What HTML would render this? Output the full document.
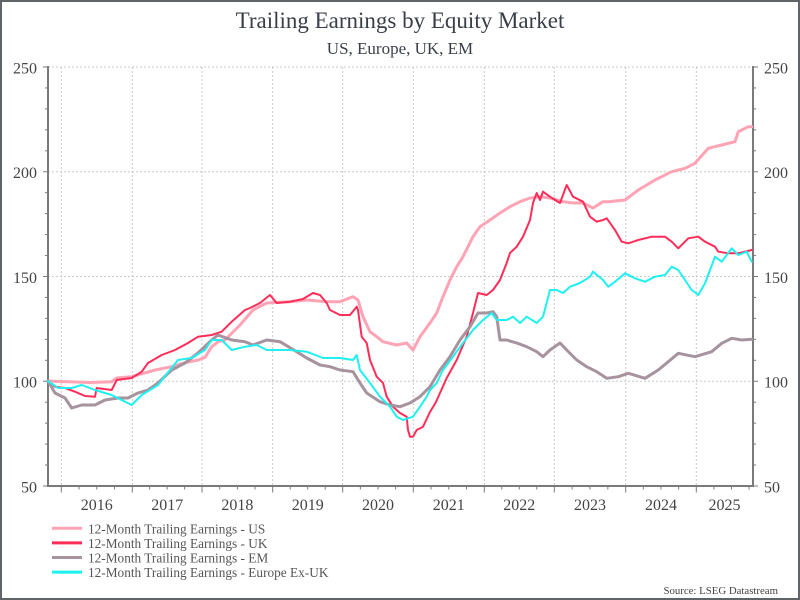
<!DOCTYPE html>
<html>
<head>
<meta charset="utf-8">
<style>
html,body{margin:0;padding:0;background:#fff;}
svg{display:block;}
text{font-family:"Liberation Serif","Times New Roman",serif;}
</style>
</head>
<body>
<svg width="800" height="600" viewBox="0 0 800 600" xmlns="http://www.w3.org/2000/svg">
<rect x="0" y="0" width="800" height="600" fill="#fff"/>
<rect x="1" y="1" width="798" height="598" fill="none" stroke="#606468" stroke-width="2"/>

<!-- Title -->
<text x="400" y="28" text-anchor="middle" font-size="23" fill="#3a3e48">Trailing Earnings by Equity Market</text>
<text x="400" y="54" text-anchor="middle" font-size="17" fill="#3a3e48">US, Europe, UK, EM</text>

<!-- Gridlines -->
<g stroke="#c8c8c8" stroke-width="1" stroke-dasharray="2,2" fill="none">
<line x1="48" y1="67" x2="753" y2="67"/>
<line x1="48" y1="171.75" x2="753" y2="171.75"/>
<line x1="48" y1="276.5" x2="753" y2="276.5"/>
<line x1="48" y1="381.25" x2="753" y2="381.25"/>
<line x1="61.3" y1="67" x2="61.3" y2="485"/>
<line x1="132.3" y1="67" x2="132.3" y2="485"/>
<line x1="202" y1="67" x2="202" y2="485"/>
<line x1="272.7" y1="67" x2="272.7" y2="485"/>
<line x1="342.7" y1="67" x2="342.7" y2="485"/>
<line x1="413.3" y1="67" x2="413.3" y2="485"/>
<line x1="484.3" y1="67" x2="484.3" y2="485"/>
<line x1="554.3" y1="67" x2="554.3" y2="485"/>
<line x1="625.7" y1="67" x2="625.7" y2="485"/>
<line x1="696.3" y1="67" x2="696.3" y2="485"/>
</g>

<!-- Axes -->
<g stroke="#7a7a7a" fill="none">
<line x1="48" y1="66" x2="48" y2="487" stroke-width="2"/>
<line x1="753" y1="66" x2="753" y2="487" stroke-width="2"/>
<line x1="47" y1="486" x2="754" y2="486" stroke-width="2"/>
<!-- left ticks -->
<g stroke-width="1">
<line x1="43" y1="486" x2="48" y2="486"/>
<line x1="45" y1="465.05" x2="48" y2="465.05"/>
<line x1="45" y1="444.1" x2="48" y2="444.1"/>
<line x1="45" y1="423.15" x2="48" y2="423.15"/>
<line x1="45" y1="402.2" x2="48" y2="402.2"/>
<line x1="43" y1="381.25" x2="48" y2="381.25"/>
<line x1="45" y1="360.3" x2="48" y2="360.3"/>
<line x1="45" y1="339.35" x2="48" y2="339.35"/>
<line x1="45" y1="318.4" x2="48" y2="318.4"/>
<line x1="45" y1="297.45" x2="48" y2="297.45"/>
<line x1="43" y1="276.5" x2="48" y2="276.5"/>
<line x1="45" y1="255.55" x2="48" y2="255.55"/>
<line x1="45" y1="234.6" x2="48" y2="234.6"/>
<line x1="45" y1="213.65" x2="48" y2="213.65"/>
<line x1="45" y1="192.7" x2="48" y2="192.7"/>
<line x1="43" y1="171.75" x2="48" y2="171.75"/>
<line x1="45" y1="150.8" x2="48" y2="150.8"/>
<line x1="45" y1="129.85" x2="48" y2="129.85"/>
<line x1="45" y1="108.9" x2="48" y2="108.9"/>
<line x1="45" y1="87.95" x2="48" y2="87.95"/>
<line x1="43" y1="67" x2="48" y2="67"/>
<!-- right ticks -->
<line x1="753" y1="486" x2="758" y2="486"/>
<line x1="753" y1="465.05" x2="756" y2="465.05"/>
<line x1="753" y1="444.1" x2="756" y2="444.1"/>
<line x1="753" y1="423.15" x2="756" y2="423.15"/>
<line x1="753" y1="402.2" x2="756" y2="402.2"/>
<line x1="753" y1="381.25" x2="758" y2="381.25"/>
<line x1="753" y1="360.3" x2="756" y2="360.3"/>
<line x1="753" y1="339.35" x2="756" y2="339.35"/>
<line x1="753" y1="318.4" x2="756" y2="318.4"/>
<line x1="753" y1="297.45" x2="756" y2="297.45"/>
<line x1="753" y1="276.5" x2="758" y2="276.5"/>
<line x1="753" y1="255.55" x2="756" y2="255.55"/>
<line x1="753" y1="234.6" x2="756" y2="234.6"/>
<line x1="753" y1="213.65" x2="756" y2="213.65"/>
<line x1="753" y1="192.7" x2="756" y2="192.7"/>
<line x1="753" y1="171.75" x2="758" y2="171.75"/>
<line x1="753" y1="150.8" x2="756" y2="150.8"/>
<line x1="753" y1="129.85" x2="756" y2="129.85"/>
<line x1="753" y1="108.9" x2="756" y2="108.9"/>
<line x1="753" y1="87.95" x2="756" y2="87.95"/>
<line x1="753" y1="67" x2="758" y2="67"/>
<!-- x ticks major -->
<line x1="61.3" y1="486" x2="61.3" y2="492.5"/>
<line x1="132.3" y1="486" x2="132.3" y2="492.5"/>
<line x1="202" y1="486" x2="202" y2="492.5"/>
<line x1="272.7" y1="486" x2="272.7" y2="492.5"/>
<line x1="342.7" y1="486" x2="342.7" y2="492.5"/>
<line x1="413.3" y1="486" x2="413.3" y2="492.5"/>
<line x1="484.3" y1="486" x2="484.3" y2="492.5"/>
<line x1="554.3" y1="486" x2="554.3" y2="492.5"/>
<line x1="625.7" y1="486" x2="625.7" y2="492.5"/>
<line x1="696.3" y1="486" x2="696.3" y2="492.5"/>
<!-- x ticks minor -->
<line x1="79.05" y1="486" x2="79.05" y2="489.5"/><line x1="96.8" y1="486" x2="96.8" y2="489.5"/><line x1="114.55" y1="486" x2="114.55" y2="489.5"/>
<line x1="149.7" y1="486" x2="149.7" y2="489.5"/><line x1="167.15" y1="486" x2="167.15" y2="489.5"/><line x1="184.6" y1="486" x2="184.6" y2="489.5"/>
<line x1="219.7" y1="486" x2="219.7" y2="489.5"/><line x1="237.35" y1="486" x2="237.35" y2="489.5"/><line x1="255" y1="486" x2="255" y2="489.5"/>
<line x1="290.2" y1="486" x2="290.2" y2="489.5"/><line x1="307.7" y1="486" x2="307.7" y2="489.5"/><line x1="325.2" y1="486" x2="325.2" y2="489.5"/>
<line x1="360.35" y1="486" x2="360.35" y2="489.5"/><line x1="378" y1="486" x2="378" y2="489.5"/><line x1="395.65" y1="486" x2="395.65" y2="489.5"/>
<line x1="431.05" y1="486" x2="431.05" y2="489.5"/><line x1="448.8" y1="486" x2="448.8" y2="489.5"/><line x1="466.55" y1="486" x2="466.55" y2="489.5"/>
<line x1="501.8" y1="486" x2="501.8" y2="489.5"/><line x1="519.3" y1="486" x2="519.3" y2="489.5"/><line x1="536.8" y1="486" x2="536.8" y2="489.5"/>
<line x1="572.15" y1="486" x2="572.15" y2="489.5"/><line x1="590" y1="486" x2="590" y2="489.5"/><line x1="607.85" y1="486" x2="607.85" y2="489.5"/>
<line x1="643.35" y1="486" x2="643.35" y2="489.5"/><line x1="661" y1="486" x2="661" y2="489.5"/><line x1="678.65" y1="486" x2="678.65" y2="489.5"/>
<line x1="713.9" y1="486" x2="713.9" y2="489.5"/><line x1="731.5" y1="486" x2="731.5" y2="489.5"/><line x1="749.1" y1="486" x2="749.1" y2="489.5"/>
</g>
</g>

<!-- Y labels -->
<g font-size="16" fill="#444">
<text x="37" y="73.5" text-anchor="end">250</text>
<text x="37" y="178.2" text-anchor="end">200</text>
<text x="37" y="283" text-anchor="end">150</text>
<text x="37" y="387.7" text-anchor="end">100</text>
<text x="37" y="492.3" text-anchor="end">50</text>
<text x="764" y="73.5">250</text>
<text x="764" y="178.2">200</text>
<text x="764" y="283">150</text>
<text x="764" y="387.7">100</text>
<text x="764" y="492.3">50</text>
</g>

<!-- X labels -->
<g font-size="16" fill="#444" text-anchor="middle">
<text x="96.8" y="510">2016</text>
<text x="167.2" y="510">2017</text>
<text x="237.4" y="510">2018</text>
<text x="307.7" y="510">2019</text>
<text x="378" y="510">2020</text>
<text x="448.8" y="510">2021</text>
<text x="519.3" y="510">2022</text>
<text x="590" y="510">2023</text>
<text x="661" y="510">2024</text>
<text x="724.5" y="510">2025</text>
</g>

<!-- Series -->
<g fill="none" stroke-linejoin="round" stroke-linecap="round">
<!-- US -->
<polyline stroke="#ffa3b5" stroke-width="3" points="48,381 60,381.5 75,382 90,382.5 105,382 111.7,381.7 116.7,378 131.7,376.7 155,370 171.7,366.7 185,362.7 198.3,360 205,357.3 211.7,346.7 218.3,341.7 225,340 235,330 240,325 253,310 266.7,303 290,301.7 306.7,300 326.7,301.7 340,301.7 353,296.7 358,300 363,316.7 370,331.7 376.7,336.7 383,341.7 396.7,345 406.7,343 413,350 420,336.7 430,323 436.7,313 443,296.7 450,280 456.7,266.7 463,256.7 473,236.7 480,226.7 490,220 500,213 510,206.7 520,201.7 530,198 540,196.7 550,198 563,201.7 573,203 583,203 593,208 603,201.7 608.3,201.7 625,200 638.3,190 655,180 671.7,171.7 685,168.3 695,163.3 708.3,148.3 721.7,145 735,141.7 738.3,131.7 748.3,126.7 751.7,126.7"/>
<!-- UK -->
<polyline stroke="#ff2d58" stroke-width="2" points="48,381 55,386.7 65,388 75,391.7 85,396 95,396.7 96.7,388 111.7,390 116.7,380 131.7,378 141.7,371.7 148,363 161.7,355 175,350 188,343 198,336.7 211.7,335 221.7,331.7 231.7,321.7 245,310 250,308 260,303 270,295 276.7,303 290,301.7 303,299 313,293 320,295 326.7,303 330,310 340,315 350,315 356.7,306.7 358,310 361.7,336.7 366.7,343 370,360 376.7,376.7 383,383 386.7,396.7 393,406.7 400,413 406.7,416.7 408,430 410,436.7 413,436.7 416.7,430 423,426.7 430,412 436,402 440,393 446.7,378 456.7,360 466.7,336.7 473,313 478,293 486.7,295 493,290 500,280 506.7,263 510,253 516.7,246.7 523,236.7 530,220 533,203 536.7,193 540,200 543,191.7 550,196.7 555,200 560,203 566.7,185 573,196.7 583,201.7 590,216.7 596.7,221.7 603,220 606.7,218.3 615,230 621.7,241.7 628.3,243.3 638.3,240 651.7,236.7 665,236.7 671.7,241.7 678.3,248.3 688.3,238.3 698.3,236.7 705,241.7 715,246.7 718.3,251.7 728.3,253.3 738.3,253.3 751.7,250"/>
<!-- EM -->
<polyline stroke="#a6939e" stroke-width="3" points="48,381 55,393 65,398 71.7,408 81.7,405 95,405 105,400 118,398 128,398 138,393 148,390 158,383 171.7,370 185,363 198,353 211.7,340 218,335 231.7,340 245,341.7 253,345 266.7,340 280,341.7 296.7,351.7 306.7,358 320,365 330,366.7 340,370 353,371.7 360,383 366.7,393 380,401.7 390,405 400,406.7 410,403 420,396.7 430,386.7 440,370 450,356.7 460,340 470,326.7 478,313 486.7,313 493,311.7 496.7,316.7 500,340 506.7,340 516.7,343 526.7,346.7 536.7,351.7 543,356.7 550,350 560,343 566.7,350 576.7,360 586.7,366.7 596.7,371.7 606.7,378.3 618.3,376.7 628.3,373.3 645,378.3 658.3,370 668.3,361.7 678.3,353.3 695,356.7 711.7,351.7 721.7,343.3 731.7,338.3 741.7,340 751.7,339.3"/>
<!-- Europe ex-UK -->
<polyline stroke="#1ff0f0" stroke-width="2" points="48,381 58,388 71.7,388 81.7,385 95,390 111.7,395 125,401.7 131.7,405 141.7,395 158,385 178,360 191.7,358 205,350 211.7,340 221.7,340 231.7,350 245,346.7 256.7,345 266.7,350 290,350 306.7,351.7 323,358 340,358 353,360 356.7,355 360,370 370,383 380,396.7 390,406.7 396.7,416.7 403,420 413,416.7 420,406.7 426.7,396.7 430,390 436.7,383 443,370 453,356.7 463,343 473,330 483,320 491.7,313 496.7,320 506.7,320 513,316.7 520,323 526.7,316.7 536.7,323 543,316.7 550,290 556.7,290 563,293 570,286.7 580,283 590,276.7 593,271.7 603,280 608.3,286.7 615,281.7 625,273.3 635,278.3 645,281.7 655,276.7 665,275 671.7,266.7 678.3,270 685,280 691.7,290 698.3,295 705,283.3 710,270 715,256.7 721.7,261.7 731.7,248.3 738.3,255 746.7,251.7 751.7,261.7"/>
</g>

<!-- Legend -->
<g stroke-width="3">
<line x1="52" y1="528.3" x2="82" y2="528.3" stroke="#ffa3b5"/>
<line x1="52" y1="542.9" x2="82" y2="542.9" stroke="#ff2d58"/>
<line x1="52" y1="557.5" x2="82" y2="557.5" stroke="#a6939e"/>
<line x1="52" y1="572.1" x2="82" y2="572.1" stroke="#1ff0f0"/>
</g>
<g font-size="13.3" fill="#555">
<text x="88" y="533.3">12-Month Trailing Earnings - US</text>
<text x="88" y="547.9">12-Month Trailing Earnings - UK</text>
<text x="88" y="562.5">12-Month Trailing Earnings - EM</text>
<text x="88" y="577.1">12-Month Trailing Earnings - Europe Ex-UK</text>
</g>

<!-- Source -->
<text x="778" y="594" text-anchor="end" font-size="10.8" fill="#444">Source: LSEG Datastream</text>
</svg>
</body>
</html>
